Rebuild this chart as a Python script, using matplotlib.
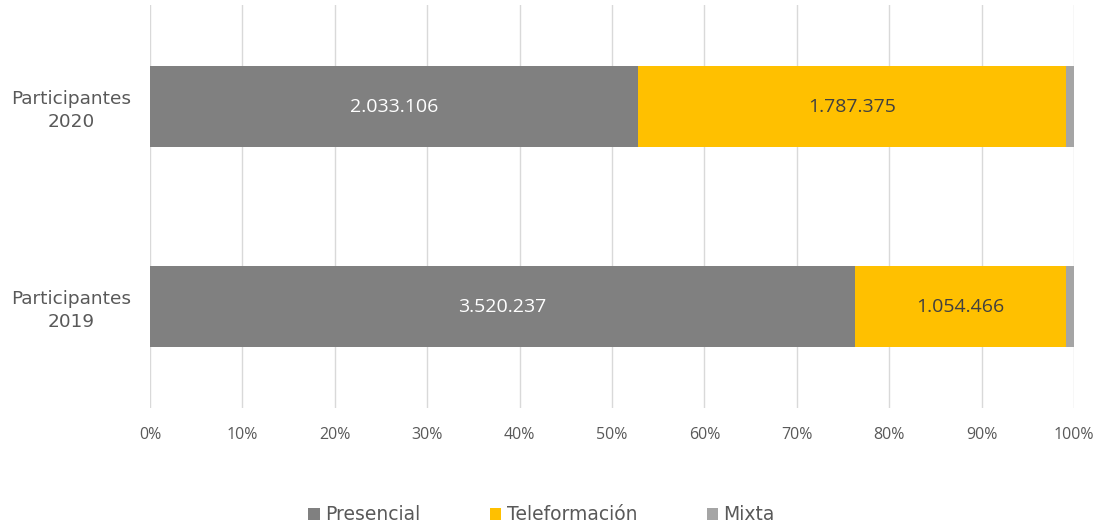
import matplotlib.pyplot as plt
import numpy as np

# datos
categorias = ['Participantes\n2019', 'Participantes\n2020']
presencial = [3520237, 2033106]
teleformacion = [1054466, 1787375]
mixta = [42000, 33000]
series = ['Presencial', 'Teleformación', 'Mixta']
colores = ['#808080', '#FFC000', '#A5A5A5']

totales = np.array(presencial) + np.array(teleformacion) + np.array(mixta)
p_pres = np.array(presencial) / totales * 100
p_tele = np.array(teleformacion) / totales * 100
p_mix = np.array(mixta) / totales * 100

fig = plt.figure(figsize=(11.02, 5.28), dpi=100)
ax = fig.add_axes([150 / 1102, 120 / 528, 924 / 1102, 403 / 528])

y = np.arange(len(categorias))
alto = 0.405
b1 = ax.barh(y, p_pres, height=alto, color=colores[0], label=series[0], zorder=2)
b2 = ax.barh(y, p_tele, left=p_pres, height=alto, color=colores[1], label=series[1], zorder=2)
b3 = ax.barh(y, p_mix, left=p_pres + p_tele, height=alto, color=colores[2], label=series[2], zorder=2)

for i in range(len(categorias)):
    ax.text(p_pres[i] / 2, y[i], f'{presencial[i]:,}'.replace(',', '.'),
            ha='center', va='center', color='white', fontsize=14, family='Open Sans')
    ax.text(p_pres[i] + p_tele[i] / 2, y[i], f'{teleformacion[i]:,}'.replace(',', '.'),
            ha='center', va='center', color='#404040', fontsize=14, family='Open Sans')

ax.set_xlim(0, 100)
ax.set_ylim(-0.5075, 1.5075)
ax.set_xticks(np.arange(0, 101, 10))
ax.set_xticklabels([f'{v}%' for v in range(0, 101, 10)], family='Open Sans', fontsize=11.5, color='#595959')
ax.set_yticks(y)
ax.set_yticklabels(categorias, fontsize=13.3, color='#595959', family='DejaVu Sans',
                   multialignment='center', linespacing=1.3)
ax.tick_params(length=0, pad=14)
ax.tick_params(axis='y', pad=13.5)
ax.grid(axis='x', color='#D9D9D9', linewidth=1, zorder=0)
for s in ax.spines.values():
    s.set_visible(False)

fig.legend(handles=[b1, b2, b3], labels=series, loc='center', bbox_to_anchor=(0.4915, 0.025),
           ncol=3, frameon=False, handlelength=0.6, handleheight=0.6,
           handletextpad=0.3, columnspacing=3.7, labelcolor='#595959',
           prop={'family': 'DejaVu Sans', 'size': 13.5})

fig.savefig('out.png', dpi=100)
